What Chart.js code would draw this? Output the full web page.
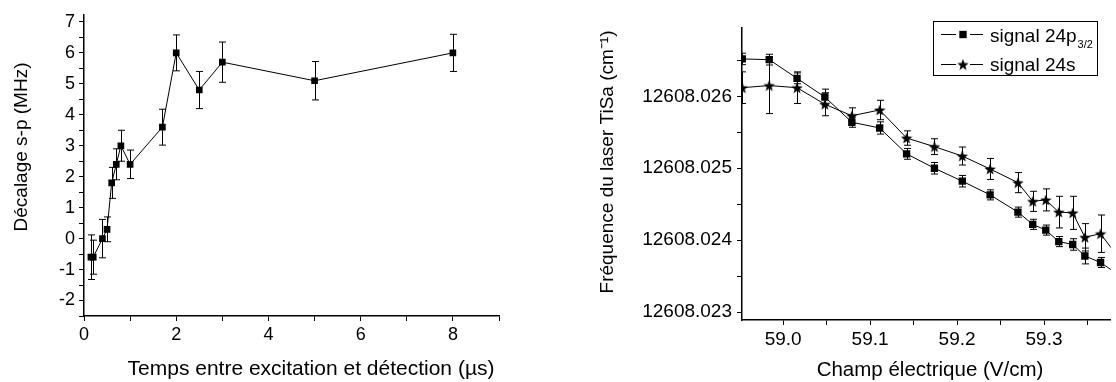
<!DOCTYPE html>
<html>
<head>
<meta charset="utf-8">
<script src="https://cdn.jsdelivr.net/npm/chart.js@4.4.1/dist/chart.umd.min.js"></script>
<style>
  html, body { margin: 0; padding: 0; background: #fff; }
  #wrap { position: relative; width: 1116px; height: 382px; overflow: hidden; }
  .box { position: absolute; top: 0; height: 382px; }
  #left { left: 0; width: 540px; }
  #right { left: 560px; width: 556px; }
</style>
</head>
<body>
<div id="wrap">
  <div class="box" id="left"><canvas id="delayChart"></canvas></div>
  <div class="box" id="right"><canvas id="fieldChart"></canvas></div>
</div>
<script>
// left panel: s-p shift against delay
const delayUs = [0.15, 0.2, 0.4, 0.5, 0.6, 0.7, 0.8, 1.0, 1.7, 2.0, 2.5, 3.0, 5.0, 8.0];
const shiftMHz = [-0.6, -0.6, 0.0, 0.3, 1.8, 2.4, 3.0, 2.4, 3.6, 6.0, 4.8, 5.7, 5.1, 6.0];
const shiftErr = [0.72, 0.55, 0.62, 0.4, 0.5, 0.5, 0.5, 0.46, 0.58, 0.58, 0.6, 0.65, 0.62, 0.6];

// right panel: laser frequency against field
const fieldVcm = [58.953, 58.984, 59.016, 59.048, 59.079, 59.111, 59.142, 59.174, 59.206, 59.238, 59.270, 59.287, 59.302, 59.317, 59.333, 59.347, 59.365, 59.383];
const freqP32 = [12608.02652, 12608.02651, 12608.02625, 12608.02599, 12608.02564, 12608.02556, 12608.02520, 12608.02500, 12608.02482, 12608.02463, 12608.02439, 12608.02422, 12608.02414, 12608.02398, 12608.02394, 12608.02378, 12608.02369, 12608.02354];
const errP32 = [0.00008, 0.000075, 0.000075, 0.00011, 0.00007, 0.000085, 0.000075, 0.00008, 0.00008, 0.00007, 0.00007, 0.00007, 0.00007, 0.00007, 0.00008, 0.00011, 0.00007, 0.00007];
const freqS = [12608.02612, 12608.02615, 12608.02612, 12608.02589, 12608.02573, 12608.02581, 12608.02542, 12608.02530, 12608.02517, 12608.02499, 12608.02480, 12608.02454, 12608.02456, 12608.02439, 12608.02438, 12608.02404, 12608.02409, 12608.0238];
const errS = [0.00022, 0.00039, 0.00022, 0.00016, 0.00011, 0.000135, 0.0001, 0.00011, 0.000125, 0.000146, 0.00014, 0.00014, 0.000153, 0.00022, 0.00023, 0.00019, 0.00026, 0.0002];

// ticks (labelled + minor)
const delayTicks = [0, 2, 4, 6, 8];
const delayMinor = [1, 3, 5, 7, 9];
const shiftTicks = [-2, -1, 0, 1, 2, 3, 4, 5, 6, 7];
const shiftMinor = [-2.5, -1.5, -0.5, 0.5, 1.5, 2.5, 3.5, 4.5, 5.5, 6.5];
const fieldTicks = [59.0, 59.1, 59.2, 59.3];
const fieldMinor = [59.05, 59.15, 59.25, 59.35];
const freqTicks = [12608.023, 12608.024, 12608.025, 12608.026];
const freqMinor = [12608.0235, 12608.0245, 12608.0255, 12608.0265];

const FONT = "'Liberation Sans', Arial, sans-serif";

function starImage(size) {
    const c = document.createElement('canvas');
    c.width = c.height = size;
    const g = c.getContext('2d');
    const r = size / 2, ri = r * 0.42;
    g.fillStyle = '#000';
    g.beginPath();
    for (let k = 0; k < 10; k++) {
        const ang = -Math.PI / 2 + k * Math.PI / 5;
        const rr = k % 2 ? ri : r;
        g.lineTo(r + rr * Math.cos(ang), r + 0.6 + rr * Math.sin(ang));
    }
    g.closePath();
    g.fill();
    return c;
}
const starMark = starImage(12);

function tickSet(major, minor) {
    return (scale) => {
        scale.ticks = major.concat(minor).sort((a, b) => a - b).map(v => ({ value: v }));
    };
}

function axis(min, max, major, minor, fmt, size, pad) {
    return {
        type: 'linear',
        min: min,
        max: max,
        afterBuildTicks: tickSet(major, minor),
        grid: { display: true, drawOnChartArea: false, drawTicks: true, tickLength: 5, color: '#000', lineWidth: 1 },
        border: { display: true, color: '#000', width: 1.5 },
        ticks: {
            autoSkip: false,
            maxRotation: 0,
            padding: pad,
            color: '#000',
            font: { family: FONT, size: size },
            callback: (v) => major.includes(v) ? fmt(v) : ''
        }
    };
}

// error bars drawn from each dataset's errors array
const errorBars = {
    id: 'errorBars',
    beforeDatasetsDraw(chart) {
        const { ctx, chartArea: a, scales: { x, y } } = chart;
        ctx.save();
        ctx.beginPath();
        ctx.rect(a.left, a.top, a.right - a.left, a.bottom - a.top);
        ctx.clip();
        ctx.strokeStyle = '#000';
        ctx.lineWidth = 1;
        chart.data.datasets.forEach(ds => {
            if (!ds.errors) return;
            ds.data.forEach((p, i) => {
                const px = Math.round(x.getPixelForValue(p.x)) + 0.5;
                const top = y.getPixelForValue(p.y + ds.errors[i]);
                const bot = y.getPixelForValue(p.y - ds.errors[i]);
                ctx.beginPath();
                ctx.moveTo(px, top); ctx.lineTo(px, bot);
                ctx.moveTo(px - 3.5, top); ctx.lineTo(px + 3.5, top);
                ctx.moveTo(px - 3.5, bot); ctx.lineTo(px + 3.5, bot);
                ctx.stroke();
            });
        });
        ctx.restore();
    }
};

const axisTitles = {
    id: 'axisTitles',
    afterDraw(chart, args, opts) {
        const ctx = chart.ctx;
        (opts.items || []).forEach(t => {
            ctx.save();
            ctx.translate(t.x, t.y);
            if (t.vertical) ctx.rotate(-Math.PI / 2);
            ctx.font = t.font;
            ctx.fillStyle = '#000';
            ctx.textAlign = 'center';
            ctx.textBaseline = 'alphabetic';
            ctx.fillText(t.text, 0, 0);
            ctx.restore();
        });
    }
};

// boxed key with subscript support
const seriesKey = {
    id: 'seriesKey',
    afterDraw(chart, args, o) {
        if (!o.show) return;
        const ctx = chart.ctx;
        ctx.save();
        ctx.strokeStyle = '#000';
        ctx.fillStyle = '#000';
        ctx.lineWidth = 1;
        ctx.strokeRect(o.left + 0.5, o.top + 0.5, o.width, o.height);
        chart.data.datasets.forEach((ds, i) => {
            const cy = o.top + o.lineY[i] + 0.5;
            const mx = o.left + o.markX;
            ctx.beginPath();
            ctx.moveTo(o.left + o.lineFrom, cy);
            ctx.lineTo(mx - o.gap, cy);
            ctx.moveTo(mx + o.gap, cy);
            ctx.lineTo(o.left + o.lineTo, cy);
            ctx.stroke();
            Chart.helpers.drawPoint(ctx, { pointStyle: ds.pointStyle, radius: ds.pointRadius, rotation: 0, borderWidth: 0 }, mx, cy);
            ctx.font = o.font;
            ctx.textAlign = 'left';
            ctx.textBaseline = 'alphabetic';
            const tx = o.left + o.textX, ty = o.top + o.textY[i];
            ctx.fillText(ds.label, tx, ty);
            if (ds.sub) {
                const w = ctx.measureText(ds.label).width;
                ctx.font = o.subFont;
                ctx.fillText(ds.sub, tx + w + 1, ty + 6);
                ctx.font = o.font;
            }
        });
        ctx.restore();
    }
};

new Chart(document.getElementById('delayChart'), {
    type: 'line',
    data: {
        datasets: [{
            data: delayUs.map((x, i) => ({ x: x, y: shiftMHz[i] })),
            errors: shiftErr,
            borderColor: '#000',
            borderWidth: 1,
            pointStyle: 'rect',
            pointRadius: 4.7,
            pointBackgroundColor: '#000',
            pointBorderWidth: 0,
            tension: 0
        }]
    },
    options: {
        responsive: true,
        maintainAspectRatio: false,
        animation: false,
        events: [],
        layout: { padding: { top: 14, right: 41, left: 0, bottom: 0 } },
        scales: {
            x: Object.assign(axis(0, 9, delayTicks, delayMinor, v => String(v), 18, 3), { afterFit(s) { s.height = 66; } }),
            y: Object.assign(axis(-2.5, 7.23, shiftTicks, shiftMinor, v => String(v), 18, 4), { afterFit(s) { s.width = 84; } })
        },
        plugins: {
            legend: { display: false },
            tooltip: { enabled: false },
            axisTitles: {
                items: [
                    { text: 'Temps entre excitation et détection (µs)', x: 311, y: 375, font: '21px ' + FONT },
                    { text: 'Décalage s-p (MHz)', x: 27, y: 147, vertical: true, font: '19px ' + FONT }
                ]
            }
        }
    },
    plugins: [errorBars, axisTitles]
});

new Chart(document.getElementById('fieldChart'), {
    type: 'line',
    data: {
        datasets: [{
            label: 'signal 24p',
            sub: '3/2',
            data: fieldVcm.map((x, i) => ({ x: x, y: freqP32[i] })),
            errors: errP32,
            borderColor: '#000',
            borderWidth: 1,
            pointStyle: 'rect',
            pointRadius: 5.2,
            pointBackgroundColor: '#000',
            pointBorderWidth: 0,
            tension: 0
        }, {
            label: 'signal 24s',
            data: fieldVcm.map((x, i) => ({ x: x, y: freqS[i] })),
            errors: errS,
            borderColor: '#000',
            borderWidth: 1,
            pointStyle: starMark,
            pointRadius: 5,
            pointBackgroundColor: '#000',
            pointBorderWidth: 0,
            tension: 0
        }]
    },
    options: {
        responsive: true,
        maintainAspectRatio: false,
        animation: false,
        events: [],
        layout: { padding: { top: 28, right: 0, left: 0, bottom: 0 } },
        scales: {
            x: Object.assign(axis(58.9527, 59.3768, fieldTicks, fieldMinor, v => v.toFixed(1), 19, 3), { afterFit(s) { s.height = 62; } }),
            y: Object.assign(axis(12608.02289, 12608.02695, freqTicks, freqMinor, v => v.toFixed(3), 19, 5), { afterFit(s) { s.width = 182; } })
        },
        plugins: {
            legend: { display: false },
            tooltip: { enabled: false },
            axisTitles: {
                items: [
                    { text: 'Champ électrique (V/cm)', x: 370, y: 376, font: '20.5px ' + FONT },
                    { text: 'Fréquence du laser TiSa (cm⁻¹)', x: 53, y: 162, vertical: true, font: '19px ' + FONT }
                ]
            },
            seriesKey: {
                show: true,
                left: 373, top: 21, width: 164, height: 54,
                lineFrom: 8, lineTo: 50, markX: 30, gap: 7,
                lineY: [13, 43],
                textX: 57, textY: [21, 50],
                font: '19px ' + FONT,
                subFont: '11px ' + FONT
            }
        }
    },
    plugins: [errorBars, axisTitles, seriesKey]
});
</script>
</body>
</html>
